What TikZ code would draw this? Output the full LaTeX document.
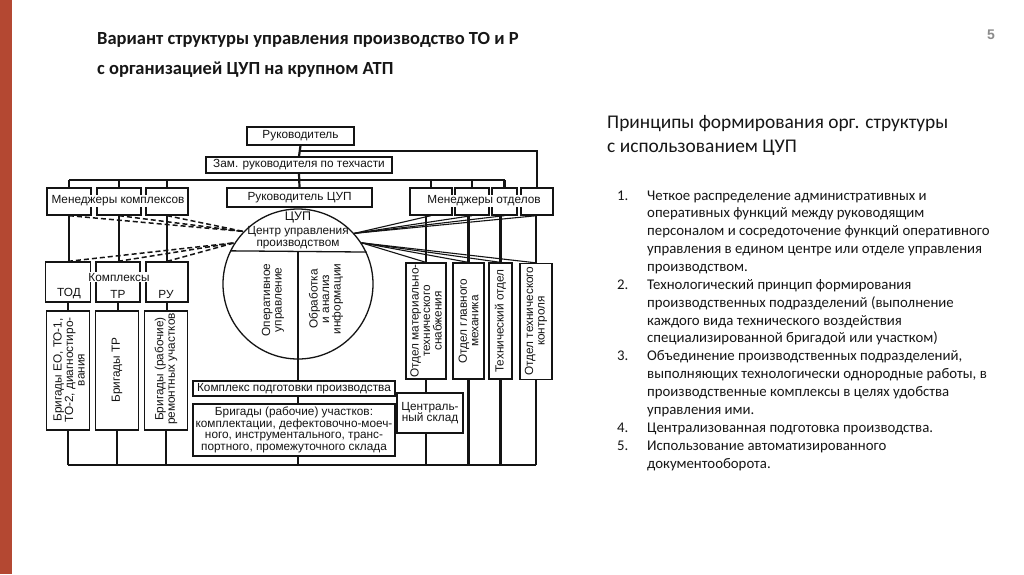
\documentclass[tikz,border=0pt]{standalone}
\usepackage{fontspec}
\setmainfont{Carlito}
\newfontfamily\diafam{Liberation Sans}
\usetikzlibrary{calc}
\definecolor{ink}{RGB}{20,20,20}
\definecolor{barc}{RGB}{180,72,50}
\definecolor{txt}{RGB}{22,22,22}
\newcommand\diafont{\diafam\fontsize{11.8}{11.5}\selectfont}
\begin{document}
\begin{tikzpicture}[x=1pt,y=-1pt,
  box/.style={draw=ink, line width=1.3pt, inner sep=0pt, fill=white, font=\diafont, text=ink, align=center},
  conn/.style={draw=ink, line width=2.2pt},
  inner/.style={draw=ink, line width=1.3pt},
  fan/.style={draw=ink, line width=1.1pt},
  dsh/.style={draw=ink, line width=1.5pt, dash pattern=on 5pt off 3pt},
  lbl/.style={inner sep=0.5pt, font=\diafont, align=center, text=ink},
  vlbl/.style={lbl, rotate=90}]
\useasboundingbox[fill=white] (0,0) rectangle (1024,574);
\fill[barc] (0,0) rectangle (12,574);

% title and page number
\node[anchor=base west, inner sep=0, text=txt, font=\bfseries\fontsize{18.5}{30}\selectfont] (title) at (97,44)
  {\begin{tabular}[t]{@{}l@{}}Вариант структуры управления производство ТО и Р\\с организацией ЦУП на крупном АТП\end{tabular}};
\node[inner sep=0, text=black!45, font=\diafam\bfseries\fontsize{14}{14}\selectfont] (pnum) at (991,35) {5};

% right text
\node[anchor=base west, inner sep=0, text=txt, font=\fontsize{19.4}{24}\selectfont] (head) at (607,128)
  {\begin{tabular}[t]{@{}l@{}}Принципы формирования орг. структуры\\с использованием ЦУП\end{tabular}};
\node[anchor=base west, inner sep=0, text=txt, font=\fontsize{14.8}{17.87}\selectfont] (list) at (617,200)
  {\begin{tabular}[t]{@{}l@{}l@{}}
  \makebox[30pt][l]{1.} & Четкое распределение административных и\\
  & оперативных функций между руководящим\\
  & персоналом и сосредоточение функций оперативного\\
  & управления в едином центре или отделе управления\\
  & производством.\\
  \makebox[30pt][l]{2.} & Технологический принцип формирования\\
  & производственных подразделений (выполнение\\
  & каждого вида технического воздействия\\
  & специализированной бригадой или участком)\\
  \makebox[30pt][l]{3.} & Объединение производственных подразделений,\\
  & выполняющих технологически однородные работы, в\\
  & производственные комплексы в целях удобства\\
  & управления ими.\\
  \makebox[30pt][l]{4.} & Централизованная подготовка производства.\\
  \makebox[30pt][l]{5.} & Использование автоматизированного\\
  & документооборота.
  \end{tabular}};

% ---- diagram boxes ----
\node[box, minimum width=107pt, minimum height=18pt] (ruk) at (300.5,136) {Руководитель};
\node[box, minimum width=186pt, minimum height=16pt] (zam) at (299,165) {Зам. руководителя по техчасти};
\node[box, minimum width=145pt, minimum height=19pt] (rcup) at (299.5,197.5) {Руководитель ЦУП};

\node[draw=ink, line width=1.3pt, circle, minimum size=150pt, inner sep=0pt] (cup) at (298,284) {};

\node[box, minimum width=44pt, minimum height=27pt] (mk1) at (69,201.5) {};
\node[box, minimum width=44pt, minimum height=27pt] (mk2) at (119,201.5) {};
\node[box, minimum width=42pt, minimum height=27pt] (mk3) at (167,201.5) {};
\node[lbl, fill=white, inner sep=1pt] (mkl) at (118,201) {Менеджеры комплексов};

\node[box, minimum width=42pt, minimum height=27pt] (mo1) at (431,201.5) {};
\node[box, minimum width=34pt, minimum height=27pt] (mo2) at (472,201.5) {};
\node[box, minimum width=25pt, minimum height=27pt] (mo3) at (504.5,201.5) {};
\node[box, minimum width=32pt, minimum height=27pt] (mo4) at (537,201.5) {};
\node[lbl, fill=white, inner sep=1pt] (mol) at (484,201) {Менеджеры отделов};

\node[box, minimum width=45pt, minimum height=40pt] (kx1) at (68,282) {};
\node[box, minimum width=44pt, minimum height=40pt] (kx2) at (118,282) {};
\node[box, minimum width=42pt, minimum height=40pt] (kx3) at (167,282) {};
\node[lbl, fill=white, inner sep=1pt] (kxl) at (119,277) {Комплексы};
\node[lbl] (tod) at (69,294) {ТОД};
\node[lbl] (tr) at (118,294) {ТР};
\node[lbl] (ru) at (166,294) {РУ};

\node[box, minimum width=43pt, minimum height=119pt] (br1) at (68,370.5) {};
\node[box, minimum width=43pt, minimum height=119pt] (br2) at (117,370.5) {};
\node[box, minimum width=43pt, minimum height=119pt] (br3) at (166,370.5) {};
\node[vlbl] (br1t) at (69,370) {Бригады ЕО, ТО-1,\\ТО-2, диагностиро-\\вания};
\node[vlbl] (br2t) at (117,370) {Бригады ТР};
\node[vlbl] (br3t) at (166,369) {Бригады (рабочие)\\ремонтных участков};

\node[box, minimum width=40pt, minimum height=116pt] (od1) at (426,321) {};
\node[box, minimum width=31pt, minimum height=116pt] (od2) at (468.5,321) {};
\node[box, minimum width=23pt, minimum height=116pt] (od3) at (500.5,321) {};
\node[box, minimum width=32pt, minimum height=116pt] (od4) at (536,321.5) {};
\node[vlbl] (od1t) at (426,321) {Отдел материально-\\технического\\снабжения};
\node[vlbl] (od2t) at (468.5,321) {Отдел главного\\механика};
\node[vlbl] (od3t) at (500.5,321) {Технический отдел};
\node[vlbl] (od4t) at (536,321) {Отдел технического\\контроля};

\node[box, minimum width=66pt, minimum height=40pt] (cs) at (430,413) {Централь-\\ный склад};
\node[box, minimum width=202pt, minimum height=15pt] (kpp) at (294,388.5) {Комплекс подготовки производства};
\node[box, minimum width=202pt, minimum height=52pt] (brig) at (294,430)
  {Бригады (рабочие) участков:\\комплектации, дефектовочно-моеч-\\ного, инструментального, транс-\\портного, промежуточного склада};

% circle contents
\node[lbl, font=\diafam\fontsize{12.5}{12}\selectfont] (cupt) at (298,217) {ЦУП};
\node[lbl, font=\diafam\fontsize{11.8}{12}\selectfont] (cupn) at (298,238) {Центр управления\\производством};
\coordinate (ch) at (298,252);
\draw[inner] (cup.154.7) -- (cup.25.3);
\draw[inner] (ch) -- (cup.south);
\node[vlbl] (opu) at (273,300) {Оперативное\\управление};
\node[vlbl] (obr) at (326,299) {Обработка\\и анализ\\информации};

% ---- connectors ----
\coordinate (bt) at (0,151);
\coordinate (bm) at (0,180);
\coordinate (bb) at (0,465);
\draw[conn] (ruk.south) -- (zam.north);
\draw[conn] (ruk.south |- bt) -| (mo4.north);
\draw[conn] (zam.south) -- (rcup.north);
\draw[conn] (mk1.north |- bm) -- (mo3.north |- bm);
\foreach \n in {mk1,mk2,mk3,mo1,mo2,mo3} \draw[conn] (\n.north |- bm) -- (\n.north);
\foreach \a/\b in {mk1/kx1,mk2/kx2,mk3/kx3} \draw[conn] (\a.south) -- (\a.south |- \b.north);
\foreach \a/\b in {kx1/br1,kx2/br2,kx3/br3} \draw[conn] (\a.south) -- (\a.south |- \b.north);
\foreach \n in {br1,br2,br3,od2,od3,od4} \draw[conn] (\n.south) -- (\n.south |- bb);
\foreach \a/\b in {mo1/od1,mo2/od2,mo3/od3,mo4/od4} \draw[conn] (\b.north |- \a.south) -- (\b.north);
\draw[conn] (od1.south) -- (od1.south |- cs.north);
\draw[conn] (cs.south -| od1.south) -- (od1.south |- bb);
\draw[conn] (br1.south |- bb) -- (od4.south |- bb);
\draw[conn] (cup.south) -- (cup.south |- kpp.north);
\draw[conn] (kpp.south -| cup.south) -- (brig.north -| cup.south);
\draw[conn] (brig.south -| cup.south) -- (bb -| cup.south);

% fans
\foreach \n in {mk1,mk2,mk3} \draw[dsh] (\n.south) -- (cup.136);
\foreach \n in {kx1,kx2,kx3} \draw[dsh] (\n.north) -- (cup.147);
\foreach \n in {mo1,mo2,mo3,mo4} \draw[fan] (cup.42) -- (\n.south);
\foreach \n in {od1,od2,od3,od4} \draw[fan] (cup.33) -- (\n.north);
\end{tikzpicture}
\end{document}
